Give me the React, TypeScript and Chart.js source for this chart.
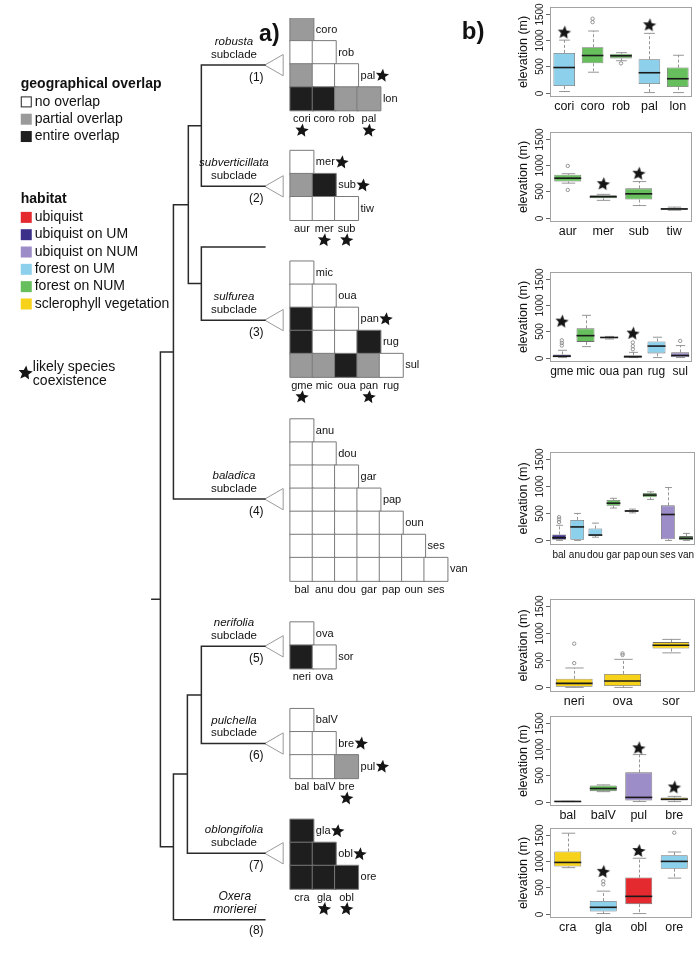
import React, { useEffect, useRef } from "react";
import { Chart, registerables } from "chart.js";

Chart.register(...registerables);

const FONT = "'Liberation Sans', Arial, Helvetica, sans-serif";

// ---------------- legend data ----------------
const overlapTitle = "geographical overlap";
const overlapLabels = ["no overlap", "partial overlap", "entire overlap"];
const overlapColors = ["#FFFFFF", "#9A9A9A", "#1E1E1E"];
const habitatTitle = "habitat";
const habitatKeys = ["ubi", "ubiUM", "ubiNUM", "forUM", "forNUM", "scl"];
const habitatLabels = ["ubiquist", "ubiquist on UM", "ubiquist on NUM", "forest on UM", "forest on NUM", "sclerophyll vegetation"];
const habitatColors = ["#E42A2E", "#3A3089", "#9C8CC8", "#8DD0EC", "#67BE5C", "#F7D21B"];
const starLegend = ["likely species", "coexistence"];

// ---------------- clades ----------------
const cladeNames = ["robusta", "subverticillata", "", "sulfurea", "baladica", "nerifolia", "pulchella", "oblongifolia", "Oxera|morierei"];
const cladeNumbers = ["(1)", "(2)", "", "(3)", "(4)", "(5)", "(6)", "(7)", "(8)"];
const cladeCollapsed = [true, true, false, true, true, true, true, true, false];

// ---------------- overlap matrices (0 none, 1 partial, 2 entire) ----------------
const m1Species = ["cori", "coro", "rob", "pal", "lon"];
const m1Overlap = [[1], [0, 0], [1, 0, 0], [2, 2, 1, 1]];
const m1Stars = ["cori", "pal"];
const m2Species = ["aur", "mer", "sub", "tiw"];
const m2Overlap = [[0], [1, 2], [0, 0, 0]];
const m2Stars = ["mer", "sub"];
const m3Species = ["gme", "mic", "oua", "pan", "rug", "sul"];
const m3Overlap = [[0], [0, 0], [2, 0, 0], [2, 0, 0, 2], [1, 1, 2, 1, 0]];
const m3Stars = ["gme", "pan"];
const m4Species = ["bal", "anu", "dou", "gar", "pap", "oun", "ses", "van"];
const m4Overlap = [[0], [0, 0], [0, 0, 0], [0, 0, 0, 0], [0, 0, 0, 0, 0], [0, 0, 0, 0, 0, 0], [0, 0, 0, 0, 0, 0, 0]];
const m4Stars: string[] = [];
const m5Species = ["neri", "ova", "sor"];
const m5Overlap = [[0], [2, 0]];
const m5Stars: string[] = [];
const m6Species = ["bal", "balV", "bre", "pul"];
const m6Overlap = [[0], [0, 0], [0, 0, 1]];
const m6Stars = ["bre", "pul"];
const m7Species = ["cra", "gla", "obl", "ore"];
const m7Overlap = [[2], [2, 2], [2, 2, 2]];
const m7Stars = ["gla", "obl"];

// ---------------- elevation box plots ----------------
const yTickValues = [0, 500, 1000, 1500];

const p1Species = ["cori", "coro", "rob", "pal", "lon"];
const p1Habitat = ["forUM", "forNUM", "forNUM", "forUM", "forNUM"];
const p1Min = [20, 390, 610, 0, 0];
const p1Q1 = [125, 560, 655, 165, 105];
const p1Med = [480, 710, 705, 380, 265];
const p1Q3 = [760, 870, 745, 640, 480];
const p1Max = [1005, 1180, 765, 1135, 715];
const p1Out = [[], [1350, 1415], [560], [], []];
const p1Star = [1150, null, null, 1290, null];

const p2Species = ["aur", "mer", "sub", "tiw"];
const p2Habitat = ["forNUM", "forNUM", "forNUM", "forNUM"];
const p2Min = [660, 330, 230, 140];
const p2Q1 = [690, 370, 345, 150];
const p2Med = [755, 400, 455, 165];
const p2Q3 = [820, 430, 560, 185];
const p2Max = [840, 445, 690, 200];
const p2Out = [[990, 530], [], [], []];
const p2Star = [null, 640, 840, null];

const p3Species = ["gme", "mic", "oua", "pan", "rug", "sul"];
const p3Habitat = ["ubiUM", "forNUM", "ubiNUM", "ubiUM", "forUM", "ubiNUM"];
const p3Min = [0, 210, 355, 0, 0, 0];
const p3Q1 = [5, 300, 370, 3, 80, 5];
const p3Med = [25, 420, 385, 15, 220, 40];
const p3Q3 = [60, 560, 398, 45, 310, 100];
const p3Max = [140, 810, 405, 100, 390, 230];
const p3Out = [[230, 280, 330], [], [], [160, 220, 290], [], [320]];
const p3Star = [690, null, null, 460, null, null];

const p4Species = ["bal", "anu", "dou", "gar", "pap", "oun", "ses", "van"];
const p4Habitat = ["ubiUM", "forUM", "forUM", "forNUM", "forNUM", "forNUM", "ubiNUM", "forNUM"];
const p4Min = [0, 0, 60, 600, 510, 760, 0, 0];
const p4Q1 = [10, 10, 80, 640, 530, 800, 20, 5];
const p4Med = [50, 250, 100, 690, 545, 840, 480, 40];
const p4Q3 = [110, 380, 220, 750, 565, 880, 650, 80];
const p4Max = [280, 500, 320, 780, 580, 900, 980, 130];
const p4Out = [[340, 390, 430], [], [], [], [], [], [], []];
const p4Star = [null, null, null, null, null, null, null, null];

const p5Species = ["neri", "ova", "sor"];
const p5Habitat = ["scl", "scl", "scl"];
const p5Min = [0, 0, 640];
const p5Q1 = [10, 25, 720];
const p5Med = [75, 120, 780];
const p5Q3 = [160, 250, 840];
const p5Max = [360, 520, 890];
const p5Out = [[450, 810], [600, 630], []];
const p5Star = [null, null, null];

const p6Species = ["bal", "balV", "pul", "bre"];
const p6Habitat = ["forNUM", "forNUM", "ubiNUM", "scl"];
const p6Min = [0, 190, 0, 0];
const p6Q1 = [0, 200, 20, 20];
const p6Med = [2, 250, 80, 45];
const p6Q3 = [5, 310, 560, 80];
const p6Max = [5, 320, 900, 100];
const p6Out = [[], [], [], []];
const p6Star = [null, null, 1020, 270];

const p7Species = ["cra", "gla", "obl", "ore"];
const p7Habitat = ["scl", "forUM", "ubi", "forUM"];
const p7Min = [880, 0, 0, 680];
const p7Q1 = [900, 40, 180, 860];
const p7Med = [980, 120, 330, 1000];
const p7Q3 = [1190, 240, 690, 1120];
const p7Max = [1540, 430, 1060, 1180];
const p7Out = [[], [560, 620], [], [1550]];
const p7Star = [null, 800, 1200, null];

// ---------------- layout (positions only) ----------------
const LEFT_W = 520;
const PAGE_H = 953;
const MATRIX_X = 293;
const CELL = 24;
const matrixTops = [0, 138, 253, 417, 628, 718, 833];
const cladeY = [49, 175, 238, 314, 500, 653, 754, 868, 937];
const TIP_X = 266;
const TRI_R = 12.3;
const panelTops = [2, 127, 267, 450, 597, 711, 823];
const PANEL_LEFT = 488;
const PANEL_W = 212;
const PANEL_H = 125;

type TreeNode = number | { x: number; kids: TreeNode[] };
const TREE: TreeNode = {
  x: 153,
  kids: [
    { x: 167, kids: [{ x: 183, kids: [{ x: 197, kids: [0, 1] }, { x: 197, kids: [2, 3] }] }, 4] },
    { x: 167, kids: [{ x: 182, kids: [{ x: 197, kids: [5, 6] }, 7] }, 8] },
  ],
};

function habColor(k: string) {
  return habitatColors[habitatKeys.indexOf(k)];
}

function drawStar(ctx: CanvasRenderingContext2D, cx: number, cy: number, R: number) {
  const r = R * 0.45;
  ctx.beginPath();
  for (let i = 0; i < 10; i++) {
    const ang = -Math.PI / 2 + 0.12 + (i * Math.PI) / 5;
    const rad = i % 2 === 0 ? R : r;
    const x = cx + rad * Math.cos(ang);
    const y = cy + rad * Math.sin(ang);
    if (i === 0) ctx.moveTo(x, y);
    else ctx.lineTo(x, y);
  }
  ctx.closePath();
  ctx.fillStyle = "#151515";
  ctx.fill();
}

function makeStarImage(R: number) {
  const c = document.createElement("canvas");
  const s = Math.ceil(R * 2 + 2);
  c.width = s;
  c.height = s;
  const ctx = c.getContext("2d")!;
  drawStar(ctx, s / 2, s / 2, R);
  return c;
}

function text(ctx: CanvasRenderingContext2D, s: string, x: number, y: number, font: string, align: CanvasTextAlign = "left", color = "#111") {
  ctx.font = font;
  ctx.fillStyle = color;
  ctx.textAlign = align;
  ctx.textBaseline = "middle";
  ctx.fillText(s, x, y);
}

const matrices = [
  { species: m1Species, overlap: m1Overlap, stars: m1Stars },
  { species: m2Species, overlap: m2Overlap, stars: m2Stars },
  { species: m3Species, overlap: m3Overlap, stars: m3Stars },
  { species: m4Species, overlap: m4Overlap, stars: m4Stars },
  { species: m5Species, overlap: m5Overlap, stars: m5Stars },
  { species: m6Species, overlap: m6Overlap, stars: m6Stars },
  { species: m7Species, overlap: m7Overlap, stars: m7Stars },
];

function nodeY(n: TreeNode): number {
  if (typeof n === "number") return cladeY[n];
  return (nodeY(n.kids[0]) + nodeY(n.kids[n.kids.length - 1])) / 2;
}
function nodeX(n: TreeNode): number {
  return typeof n === "number" ? TIP_X : n.x;
}

function LeftChart() {
  const ref = useRef<HTMLCanvasElement>(null);
  useEffect(() => {
    const treePts: { x: number; y: number | null }[] = [];
    const walk = (n: TreeNode) => {
      if (typeof n === "number") return;
      const a = n.kids[0];
      const b = n.kids[1];
      const ya = nodeY(a);
      const yb = nodeY(b);
      treePts.push({ x: nodeX(a), y: ya }, { x: n.x, y: ya }, { x: n.x, y: yb }, { x: nodeX(b), y: yb }, { x: n.x, y: null });
      n.kids.forEach(walk);
    };
    walk(TREE);
    const rootY = nodeY(TREE);
    const rootX = typeof TREE === "number" ? 0 : TREE.x;
    treePts.push({ x: rootX - 10, y: rootY }, { x: rootX, y: rootY });

    const triPts = cladeY.map((y, i) => (cladeCollapsed[i] ? { x: TIP_X + TRI_R, y } : null)).filter(Boolean) as { x: number; y: number }[];

    const cellPts: { x: number; y: number }[] = [];
    const cellColors: string[] = [];
    matrices.forEach((m, mi) => {
      const top = matrixTops[mi];
      m.overlap.forEach((row, r) => {
        row.forEach((v, c) => {
          cellPts.push({ x: MATRIX_X + (c + 0.5) * CELL, y: top + (r + 0.5) * CELL });
          cellColors.push(overlapColors[v]);
        });
      });
    });

    const textPlugin = {
      id: "leftText",
      afterDraw(chart: any) {
        const ctx: CanvasRenderingContext2D = chart.ctx;
        const xs = chart.scales.x;
        const ys = chart.scales.y;
        const X = (v: number) => xs.getPixelForValue(v);
        const Y = (v: number) => ys.getPixelForValue(v);
        ctx.save();
        text(ctx, "a)", X(270), Y(17), `bold 23px ${FONT}`, "center");
        text(ctx, "b)", X(489), Y(15), `bold 24px ${FONT}`, "center");

        text(ctx, overlapTitle, X(3), Y(69), `bold 14px ${FONT}`);
        overlapLabels.forEach((l, i) => {
          const y = 87 + 18 * i;
          ctx.fillStyle = overlapColors[i];
          ctx.fillRect(X(3), Y(y - 5.5), 11, 11);
          if (i === 0) {
            ctx.strokeStyle = "#222";
            ctx.lineWidth = 1;
            ctx.strokeRect(X(3) + 0.5, Y(y - 5.5) + 0.5, 10, 10);
          }
          text(ctx, l, X(18), Y(y), `14px ${FONT}`);
        });
        text(ctx, habitatTitle, X(3), Y(188), `bold 14px ${FONT}`);
        habitatLabels.forEach((l, i) => {
          const y = 207 + 18 * i;
          ctx.fillStyle = habitatColors[i];
          ctx.fillRect(X(3), Y(y - 5.5), 11, 11);
          text(ctx, l, X(18), Y(y), `14px ${FONT}`);
        });
        drawStar(ctx, X(8), Y(369), 7.5);
        text(ctx, starLegend[0], X(16), Y(363), `14px ${FONT}`);
        text(ctx, starLegend[1], X(16), Y(377), `14px ${FONT}`);

        cladeNames.forEach((name, i) => {
          if (!name) return;
          const y = cladeY[i];
          if (name.includes("|")) {
            const [a, b] = name.split("|");
            text(ctx, a, X(233), Y(y - 24), `italic 12px ${FONT}`, "center");
            text(ctx, b, X(233), Y(y - 10), `italic 12px ${FONT}`, "center");
            text(ctx, cladeNumbers[i], X(256), Y(y + 11), `12px ${FONT}`, "center");
          } else {
            text(ctx, name, X(232), Y(y - 24), `italic 11.5px ${FONT}`, "center");
            text(ctx, "subclade", X(232), Y(y - 11), `11.5px ${FONT}`, "center");
            text(ctx, cladeNumbers[i], X(256), Y(y + 13), `12px ${FONT}`, "center");
          }
        });

        const lf = `11px ${FONT}`;
        matrices.forEach((m, mi) => {
          const top = matrixTops[mi];
          const n = m.species.length;
          for (let r = 0; r < n - 1; r++) {
            const sp = m.species[r + 1];
            const lx = MATRIX_X + (r + 1) * CELL + 3;
            const ly = top + (r + 0.5) * CELL;
            text(ctx, sp, X(lx), Y(ly), lf);
            if (m.stars.includes(sp)) {
              ctx.font = lf;
              const w = ctx.measureText(sp).width;
              drawStar(ctx, X(lx) + w + 7, Y(ly), 7);
            }
          }
          const bottom = top + (n - 1) * CELL;
          for (let c = 0; c < n - 1; c++) {
            const sp = m.species[c];
            const cx = MATRIX_X + (c + 0.5) * CELL;
            text(ctx, sp, X(cx), Y(bottom + 9), lf, "center");
            if (m.stars.includes(sp)) drawStar(ctx, X(cx), Y(bottom + 21), 7);
          }
        });
        ctx.restore();
      },
    };

    const chart = new Chart(ref.current!, {
      type: "scatter",
      data: {
        datasets: [
          {
            type: "line",
            data: treePts as any,
            showLine: true,
            spanGaps: false,
            borderColor: "#2a2a2a",
            borderWidth: 1.5,
            pointRadius: 0,
            tension: 0,
            borderJoinStyle: "miter",
          } as any,
          {
            data: triPts,
            pointStyle: "triangle",
            pointRotation: -90,
            pointRadius: TRI_R,
            pointBackgroundColor: "#ffffff",
            pointBorderColor: "#9a9a9a",
            pointBorderWidth: 1,
          } as any,
          {
            data: cellPts,
            pointStyle: "rect",
            pointRadius: CELL / Math.SQRT2,
            pointBackgroundColor: cellColors,
            pointBorderColor: "#7a7a7a",
            pointBorderWidth: 1,
          } as any,
        ],
      },
      options: {
        animation: false,
        responsive: false,
        maintainAspectRatio: false,
        events: [],
        layout: { padding: 0 },
        plugins: { legend: { display: false }, tooltip: { enabled: false } },
        scales: {
          x: { type: "linear", min: 0, max: LEFT_W, display: false },
          y: { type: "linear", min: 0, max: PAGE_H, reverse: true, display: false },
        },
      },
      plugins: [textPlugin],
    });
    return () => chart.destroy();
  }, []);
  return (
    <canvas
      ref={ref}
      width={LEFT_W}
      height={PAGE_H}
      style={{ position: "absolute", left: 0, top: 0, width: LEFT_W, height: PAGE_H }}
    />
  );
}

type Panel = {
  species: string[];
  hab: string[];
  mins: number[];
  q1: number[];
  med: number[];
  q3: number[];
  maxs: number[];
  outl: number[][];
  stars: (number | null)[];
  top: number;
  labelSize: number;
};

const panels: Panel[] = [
  { species: p1Species, hab: p1Habitat, mins: p1Min, q1: p1Q1, med: p1Med, q3: p1Q3, maxs: p1Max, outl: p1Out, stars: p1Star, top: panelTops[0], labelSize: 12.5 },
  { species: p2Species, hab: p2Habitat, mins: p2Min, q1: p2Q1, med: p2Med, q3: p2Q3, maxs: p2Max, outl: p2Out, stars: p2Star, top: panelTops[1], labelSize: 12.5 },
  { species: p3Species, hab: p3Habitat, mins: p3Min, q1: p3Q1, med: p3Med, q3: p3Q3, maxs: p3Max, outl: p3Out, stars: p3Star, top: panelTops[2], labelSize: 12 },
  { species: p4Species, hab: p4Habitat, mins: p4Min, q1: p4Q1, med: p4Med, q3: p4Q3, maxs: p4Max, outl: p4Out, stars: p4Star, top: panelTops[3], labelSize: 10 },
  { species: p5Species, hab: p5Habitat, mins: p5Min, q1: p5Q1, med: p5Med, q3: p5Q3, maxs: p5Max, outl: p5Out, stars: p5Star, top: panelTops[4], labelSize: 12.5 },
  { species: p6Species, hab: p6Habitat, mins: p6Min, q1: p6Q1, med: p6Med, q3: p6Q3, maxs: p6Max, outl: p6Out, stars: p6Star, top: panelTops[5], labelSize: 12.5 },
  { species: p7Species, hab: p7Habitat, mins: p7Min, q1: p7Q1, med: p7Med, q3: p7Q3, maxs: p7Max, outl: p7Out, stars: p7Star, top: panelTops[6], labelSize: 12.5 },
];

function BoxChart({ p }: { p: Panel }) {
  const ref = useRef<HTMLCanvasElement>(null);
  useEffect(() => {
    const starImg = makeStarImage(7);
    const outPts: { x: string; y: number }[] = [];
    p.outl.forEach((arr, i) => arr.forEach((v) => outPts.push({ x: p.species[i], y: v })));
    const starPts: { x: string; y: number }[] = [];
    p.stars.forEach((v, i) => {
      if (v !== null) starPts.push({ x: p.species[i], y: v });
    });

    const extras = {
      id: "boxExtras",
      beforeDatasetsDraw(chart: any) {
        const ctx: CanvasRenderingContext2D = chart.ctx;
        const ys = chart.scales.y;
        const meta = chart.getDatasetMeta(0);
        ctx.save();
        meta.data.forEach((bar: any, i: number) => {
          const x = Math.round(bar.x) + 0.5;
          const cap = bar.width / 4;
          ctx.strokeStyle = "#8a8a8a";
          ctx.lineWidth = 0.9;
          ctx.setLineDash([3, 2]);
          ctx.beginPath();
          ctx.moveTo(x, ys.getPixelForValue(p.q3[i]));
          ctx.lineTo(x, ys.getPixelForValue(p.maxs[i]));
          ctx.moveTo(x, ys.getPixelForValue(p.q1[i]));
          ctx.lineTo(x, ys.getPixelForValue(p.mins[i]));
          ctx.stroke();
          ctx.setLineDash([]);
          ctx.beginPath();
          const yt = ys.getPixelForValue(p.maxs[i]);
          const yb = ys.getPixelForValue(p.mins[i]);
          ctx.moveTo(x - cap, yt);
          ctx.lineTo(x + cap, yt);
          ctx.moveTo(x - cap, yb);
          ctx.lineTo(x + cap, yb);
          ctx.stroke();
        });
        ctx.restore();
      },
      afterDatasetsDraw(chart: any) {
        const ctx: CanvasRenderingContext2D = chart.ctx;
        const ys = chart.scales.y;
        const meta = chart.getDatasetMeta(0);
        ctx.save();
        ctx.strokeStyle = "#1a1a1a";
        ctx.lineWidth = 1.6;
        meta.data.forEach((bar: any, i: number) => {
          const y = ys.getPixelForValue(p.med[i]);
          ctx.beginPath();
          ctx.moveTo(bar.x - bar.width / 2, y);
          ctx.lineTo(bar.x + bar.width / 2, y);
          ctx.stroke();
        });
        ctx.restore();
      },
      afterDraw(chart: any) {
        const ctx: CanvasRenderingContext2D = chart.ctx;
        const a = chart.chartArea;
        const ys = chart.scales.y;
        const xs = chart.scales.x;
        ctx.save();
        ctx.strokeStyle = "#a3a3a3";
        ctx.lineWidth = 1;
        ctx.strokeRect(Math.round(a.left) + 0.5, Math.round(a.top) + 0.5, Math.round(a.right - a.left) - 1, Math.round(a.bottom - a.top) - 1);
        ctx.strokeStyle = "#666";
        yTickValues.forEach((v) => {
          const y = Math.round(ys.getPixelForValue(v)) + 0.5;
          ctx.beginPath();
          ctx.moveTo(a.left - 4, y);
          ctx.lineTo(a.left, y);
          ctx.stroke();
          ctx.save();
          ctx.translate(a.left - 10, y);
          ctx.rotate(-Math.PI / 2);
          text(ctx, String(v), 0, 0, `10px ${FONT}`, "center", "#222");
          ctx.restore();
        });
        p.species.forEach((s, i) => {
          text(ctx, s, xs.getPixelForValue(i), a.bottom + 10, `${p.labelSize}px ${FONT}`, "center", "#111");
        });
        ctx.save();
        ctx.translate(a.left - 26, (a.top + a.bottom) / 2);
        ctx.rotate(-Math.PI / 2);
        text(ctx, "elevation (m)", 0, 0, `12.5px ${FONT}`, "center", "#111");
        ctx.restore();
        ctx.restore();
      },
    };

    const chart = new Chart(ref.current!, {
      type: "bar",
      data: {
        labels: p.species,
        datasets: [
          {
            type: "bar",
            data: p.species.map((_, i) => [p.q1[i], p.q3[i]]) as any,
            backgroundColor: p.hab.map(habColor),
            borderColor: "#6e6e6e",
            borderWidth: 0.8,
            borderSkipped: false,
            barPercentage: 0.76,
            categoryPercentage: 1,
          },
          {
            type: "line",
            data: outPts as any,
            showLine: false,
            pointStyle: "circle",
            pointRadius: 1.7,
            pointBorderColor: "#8a8a8a",
            pointBackgroundColor: "rgba(255,255,255,0)",
            pointBorderWidth: 0.9,
          } as any,
          {
            type: "line",
            data: starPts as any,
            showLine: false,
            pointStyle: starImg,
            pointRadius: 7,
          } as any,
        ],
      },
      options: {
        animation: false,
        responsive: false,
        maintainAspectRatio: false,
        events: [],
        layout: { padding: { left: 62, right: 3, top: 3, bottom: 27 } },
        plugins: { legend: { display: false }, tooltip: { enabled: false } },
        scales: {
          x: { type: "category", display: false, offset: true },
          y: { type: "linear", display: false, min: -85, max: 1640 },
        },
      },
      plugins: [extras],
    });
    return () => chart.destroy();
  }, [p]);
  return (
    <canvas
      ref={ref}
      width={PANEL_W}
      height={PANEL_H}
      style={{ position: "absolute", left: PANEL_LEFT, top: p.top - 3, width: PANEL_W, height: PANEL_H }}
    />
  );
}

export default function App() {
  return (
    <div style={{ position: "absolute", left: 0, top: 0, width: 700, height: PAGE_H, background: "#fff", overflow: "hidden" }}>
      <LeftChart />
      {panels.map((p, i) => (
        <BoxChart key={i} p={p} />
      ))}
    </div>
  );
}
